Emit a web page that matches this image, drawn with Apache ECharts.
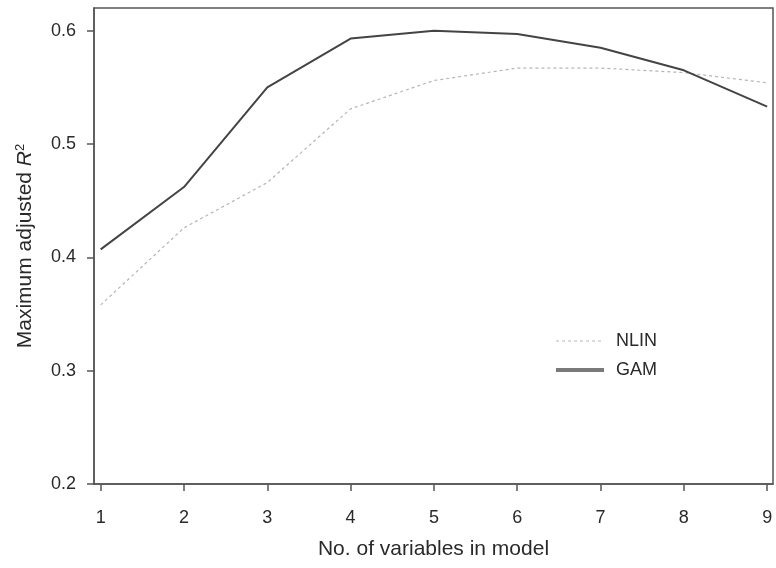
<!DOCTYPE html>
<html>
<head>
<meta charset="utf-8">
<script src="https://cdn.jsdelivr.net/npm/echarts@6/dist/echarts.min.js"></script>
<style>
  html, body { margin: 0; padding: 0; background: #fff; }
  #chart { width: 776px; height: 568px; }
</style>
</head>
<body>
<div id="chart"></div>
<script>
// number of variables in model
const nVars = [1, 2, 3, 4, 5, 6, 7, 8, 9]
// maximum adjusted R^2 values
const nlinValues = [0.358, 0.426, 0.466, 0.531, 0.556, 0.567, 0.567, 0.563, 0.554]
const gamValues = [0.407, 0.462, 0.550, 0.593, 0.600, 0.597, 0.585, 0.565, 0.533]
// tick labels
const xTicks = [1, 2, 3, 4, 5, 6, 7, 8, 9]
const yTicks = [0.2, 0.3, 0.4, 0.5, 0.6]

const chart = echarts.init(document.getElementById('chart'))

const toPairs = (vals) => nVars.map((x, i) => [x, vals[i]])

const textColor = '#2a2a2a'
const axisColor = '#555'

chart.setOption({
  animation: false,
  textStyle: { fontFamily: 'Liberation Sans, Arial, sans-serif' },
  grid: {
    left: 94,
    right: 3,
    top: 8,
    bottom: 84,
    show: true,
    borderColor: axisColor,
    borderWidth: 1.5,
    backgroundColor: 'transparent'
  },
  legend: {
    left: 549,
    top: 327,
    orient: 'vertical',
    itemWidth: 48,
    itemHeight: 14,
    itemGap: 11,
    itemStyle: { opacity: 0 },
    textStyle: { fontSize: 18, color: textColor, padding: [0, 0, 0, 7] },
    data: [
      { name: 'NLIN', lineStyle: { color: '#b8b8b8', width: 1.2, type: [3, 3] } },
      { name: 'GAM', lineStyle: { color: '#7a7a7a', width: 4 } }
    ]
  },
  xAxis: {
    type: 'value',
    min: 0.92,
    max: 9.07,
    name: 'No. of variables in model',
    nameLocation: 'middle',
    nameGap: 55,
    nameTextStyle: { fontSize: 21, color: textColor },
    splitLine: { show: false },
    axisLine: { show: true, lineStyle: { color: axisColor, width: 1.5 } },
    axisTick: { show: true, length: 7, inside: false, customValues: xTicks, lineStyle: { color: axisColor, width: 1.5 } },
    axisLabel: { customValues: xTicks, margin: 25, fontSize: 18, color: textColor }
  },
  yAxis: {
    type: 'value',
    min: 0.2,
    max: 0.62,
    name: '{n|Maximum adjusted }{i|R}{s|2}',
    nameLocation: 'middle',
    nameGap: 58,
    nameRotate: 90,
    nameTextStyle: {
      rich: {
        n: { fontSize: 21, color: textColor },
        i: { fontSize: 21, color: textColor, fontStyle: 'italic' },
        s: { fontSize: 13, color: textColor, verticalAlign: 'top', padding: [0, 0, 9, 0] }
      }
    },
    splitLine: { show: false },
    axisLine: { show: true, lineStyle: { color: axisColor, width: 1.5 } },
    axisTick: { show: true, length: 7, customValues: yTicks, lineStyle: { color: axisColor, width: 1.5 } },
    axisLabel: {
      customValues: yTicks,
      margin: 18,
      fontSize: 18,
      color: textColor,
      formatter: (v) => v.toFixed(1)
    }
  },
  series: [
    {
      name: 'NLIN',
      type: 'line',
      data: toPairs(nlinValues),
      showSymbol: false,
      lineStyle: { color: '#b5b5b5', width: 1.2, type: [3, 3] },
      itemStyle: { color: '#b5b5b5' }
    },
    {
      name: 'GAM',
      type: 'line',
      data: toPairs(gamValues),
      showSymbol: false,
      lineStyle: { color: '#444', width: 2 },
      itemStyle: { color: '#777' }
    }
  ]
})
</script>
</body>
</html>
